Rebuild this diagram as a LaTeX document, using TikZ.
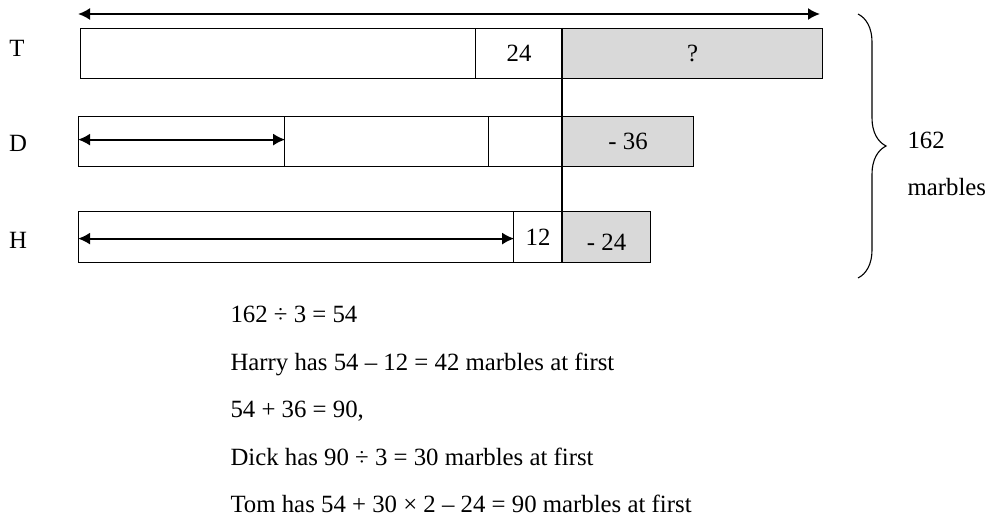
\documentclass[tikz,border=0pt]{standalone}
\usepackage{fontspec}
\setmainfont{Liberation Serif}
\usetikzlibrary{arrows.meta,decorations.pathreplacing}
\tikzset{
  txt/.style={font=\fontsize{24.8}{29}\selectfont},
  seg/.style={txt, draw, line width=1.2pt, inner sep=0pt, anchor=north west, minimum height=50pt},
  shaded/.style={seg, fill=black!15},
  tip/.tip={Latex[length=12pt,width=12pt]},
  dbl/.style={line width=2pt, tip-tip},
  lbl/.style={txt, anchor=center},
  sol/.style={txt, anchor=base west}}
\begin{document}
\begin{tikzpicture}[x=1pt,y=-1pt]
\useasboundingbox (0,0) rectangle (992,524);
% T bar
\node[seg, minimum width=395pt] (t1) at (80,28) {};
\node[seg, minimum width=87pt] (t2) at (475,28) {24};
\node[shaded, minimum width=260pt] (t3) at (562,28) {?};
% D bar
\node[seg, minimum width=206pt] (d1) at (78,116) {};
\node[seg, minimum width=204pt] (d2) at (284,116) {};
\node[seg, minimum width=74pt] (d3) at (488,116) {};
\node[shaded, minimum width=131pt] (d4) at (562,116) {- 36};
% H bar
\node[seg, minimum width=435pt, minimum height=51pt] (h1) at (78,211) {};
\node[seg, minimum width=49pt, minimum height=51pt] (h2) at (513,211) {12};
\node[shaded, minimum width=88pt, minimum height=51pt] (h3) at (562,211) {};
\node[lbl] (h3t) at ([yshift=-5pt]h3.center) {- 24};
% vertical line
\draw[line width=1.2pt] (t3.north west) -- (h3.south west);
% arrows
\coordinate (aL) at (78,14);
\coordinate (aR) at (820,14);
\draw[dbl] (aL) -- (aR);
\draw[dbl] ([yshift=2pt]d1.west) -- ([yshift=2pt]d1.east);
\draw[dbl] ([yshift=-1.5pt]h1.west) -- ([yshift=-1.5pt]h1.east);
% row labels
\node[lbl] (lT) at (17,48) {T};
\node[lbl] (lD) at (18,143) {D};
\node[lbl] (lH) at (18,240) {H};
% brace
\coordinate (bT) at (858,14);
\coordinate (bB) at (858,278);
\draw[line width=1.1pt, decorate, decoration={brace, amplitude=28pt}] (bT) -- (bB);
\node[txt, anchor=west] (n162) at (904,140) {162};
\node[txt, anchor=west] (nmar) at (904,187) {marbles};
% solution text
\node[sol] (s1) at (227,322) {162 ÷ 3 = 54};
\node[sol] (s2) at (227,370) {Harry has 54 – 12 = 42 marbles at first};
\node[sol] (s3) at (227,417) {54 + 36 = 90,};
\node[sol] (s4) at (227,465) {Dick has 90 ÷ 3 = 30 marbles at first};
\node[sol] (s5) at (227,512) {Tom has 54 + 30 × 2 – 24 = 90 marbles at first};
\end{tikzpicture}
\end{document}
